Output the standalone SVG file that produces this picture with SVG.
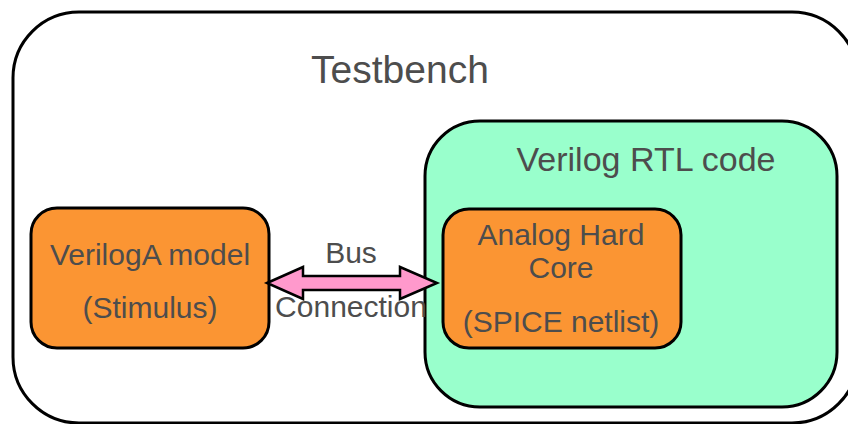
<svg xmlns="http://www.w3.org/2000/svg" width="848" height="424" viewBox="0 0 848 424">
<style>
.box{stroke:#000;stroke-width:3}
.orange{fill:#FB9533}
.t{font-family:"Liberation Sans",Arial,sans-serif;fill:#4d4d4d;text-anchor:middle}
</style>
<rect width="848" height="424" fill="#fff"/>
<g id="testbench">
<rect class="box" x="13" y="12" width="845" height="411" rx="66" fill="#fff"/>
<text class="t" x="400" y="83" font-size="39">Testbench</text>
</g>
<g id="rtl">
<rect class="box" x="425" y="121" width="412" height="286" rx="55" fill="#99FFCC"/>
<text class="t" x="646" y="171" font-size="34">Verilog RTL code</text>
</g>
<g id="veriloga">
<rect class="box orange" x="31" y="208" width="238" height="140" rx="26"/>
<text class="t" x="150" y="265" font-size="30">VerilogA model</text>
<text class="t" x="150" y="318" font-size="30">(Stimulus)</text>
</g>
<g id="ahc">
<rect class="box orange" x="443" y="209" width="238" height="139" rx="26"/>
<text class="t" x="561" y="245" font-size="30">Analog Hard</text>
<text class="t" x="561" y="278" font-size="30">Core</text>
<text class="t" x="561" y="332" font-size="30">(SPICE netlist)</text>
</g>
<g id="connectors">
<polygon points="267,283 303,267 303,276 400,276 400,267 437,283 400,299 400,290 303,290 303,299" fill="#FF99CC" stroke="#000" stroke-width="2.5" stroke-linejoin="miter"/>
<text class="t" x="351" y="263" font-size="30">Bus</text>
<text class="t" x="351" y="317" font-size="30">Connection</text>
</g>
</svg>
